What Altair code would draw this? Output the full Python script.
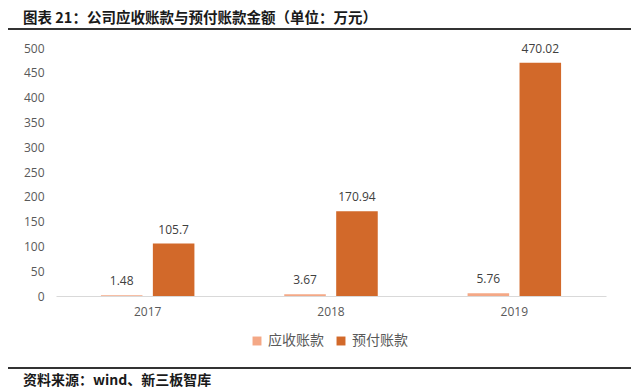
import altair as alt
import pandas as pd

years = ["2017", "2018", "2019"]
series_names = ["应收账款", "预付账款"]
receivable = [1.48, 3.67, 5.76]
prepaid = [105.7, 170.94, 470.02]
label_text = [["1.48", "3.67", "5.76"], ["105.7", "170.94", "470.02"]]
colors = ["#F4A886", "#D2692A"]
y_ticks = [0, 50, 100, 150, 200, 250, 300, 350, 400, 450, 500]
title_text = "图表 21：公司应收账款与预付账款金额（单位：万元）"
source_text = "资料来源：wind、新三板智库"

rows = []
for si, (name, vals) in enumerate(zip(series_names, [receivable, prepaid])):
    for yi, y in enumerate(years):
        rows.append({"year": y, "series": name, "value": vals[yi], "label": label_text[si][yi]})
df = pd.DataFrame(rows)

num_font = "Open Sans"
cjk_font = "Noto Sans CJK SC"

x_enc = alt.X("year:N", sort=years,
              scale=alt.Scale(paddingInner=0.49, paddingOuter=0.245),
              axis=alt.Axis(title=None, labelAngle=0, ticks=False, domainColor="#D9D9D9",
                            labelColor="#595959", labelFontSize=12, labelFont=num_font,
                            labelPadding=10))
xo_enc = alt.XOffset("series:N", sort=series_names, scale=alt.Scale(paddingInner=0.2))
y_enc = alt.Y("value:Q", scale=alt.Scale(domain=[0, 500], nice=False),
              axis=alt.Axis(title=None, values=y_ticks, grid=False, domain=False, ticks=False,
                            labelColor="#595959", labelFontSize=12, labelFont=num_font,
                            labelPadding=12, labelOverlap=False))

bars = alt.Chart(df).mark_bar().encode(
    x=x_enc, xOffset=xo_enc, y=y_enc,
    color=alt.Color("series:N", sort=series_names,
                    scale=alt.Scale(domain=series_names, range=colors),
                    legend=alt.Legend(title=None, orient="none", direction="horizontal",
                                      legendX=194, legendY=286, symbolType="square",
                                      symbolSize=80, labelFontSize=14, labelFont=cjk_font,
                                      labelColor="#595959", columnPadding=10,
                                      symbolStrokeWidth=0)),
)

labels = alt.Chart(df).mark_text(baseline="middle", dy=-14, fontSize=12, font=num_font,
                                 color="#404040").encode(
    x=x_enc, xOffset=xo_enc, y=y_enc, text="label:N")

title_df = pd.DataFrame({"t": [title_text]})
src_df = pd.DataFrame({"t": [source_text]})

title = alt.Chart(title_df).mark_text(align="left", baseline="middle", fontSize=14.5,
                                      fontWeight="bold", font=cjk_font, color="#1a1a1a").encode(
    x=alt.value(-33), y=alt.value(-29), text="t:N")
source = alt.Chart(src_df).mark_text(align="left", baseline="middle", fontSize=14,
                                     fontWeight="bold", font=cjk_font, color="#1a1a1a").encode(
    x=alt.value(-33), y=alt.value(333), text="t:N")
rule_top = alt.Chart(title_df).mark_rule(color="#333333", strokeWidth=2).encode(
    x=alt.value(-48), x2=alt.value(575), y=alt.value(-19))
rule_bot = alt.Chart(title_df).mark_rule(color="#333333", strokeWidth=2).encode(
    x=alt.value(-48), x2=alt.value(575), y=alt.value(320))

chart = alt.layer(bars, labels, title, source, rule_top, rule_bot).properties(
    width=550, height=248,
    autosize=alt.AutoSizeParams(type="none"),
    padding={"left": 48, "top": 40, "right": 26, "bottom": 96},
).configure_view(stroke=None)

chart.save("out.html", embed_options={"renderer": "svg", "actions": False})
